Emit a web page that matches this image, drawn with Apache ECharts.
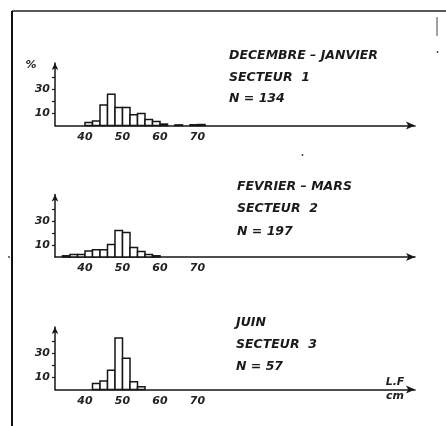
<!DOCTYPE html>
<html>
<head>
<meta charset="utf-8">
<script src="https://cdn.jsdelivr.net/npm/echarts@6/dist/echarts.min.js"></script>
<style>
html,body{margin:0;padding:0;background:#fff;}
#chart{width:446px;height:426px;}
</style>
</head>
<body>
<div id="chart"></div>
<script>
// ---- data (length classes in cm, frequency in %) ----
const binWidth = 2;
const xTickLabels = [40, 50, 60, 70];
const yTicks = [10, 20, 30, 40];
const yTickLabels = [10, 30];

const titles1 = ['DECEMBRE – JANVIER', 'SECTEUR  1', 'N = 134'];
const bins1   = [40, 42, 44, 46, 48, 50, 52, 54, 56, 58, 60, 64, 68, 70];
const values1 = [2.5, 3.7, 17, 26, 15, 15, 9, 10, 5, 3.3, 1.2, 0.5, 0.6, 0.8];

const titles2 = ['FEVRIER – MARS', 'SECTEUR  2', 'N = 197'];
const bins2   = [34, 36, 38, 40, 42, 44, 46, 48, 50, 52, 54, 56, 58];
const values2 = [1, 2, 2, 5, 6, 6, 10.5, 22, 20.5, 8, 4.5, 2, 1];

const titles3 = ['JUIN', 'SECTEUR  3', 'N = 57'];
const bins3   = [42, 44, 46, 48, 50, 52, 54];
const values3 = [5, 7, 16, 43, 26, 6.4, 2.2];

// ---- layout ----
const xMin = 32, xMax = 128, yMax = 52;
const gridLeft = 55, gridWidth = 360, gridHeight = 62.4;
const bottoms = [125.5, 257, 389.5];
const ink = '#161616';
const fontFam = '"DejaVu Sans", sans-serif';

const panels = [
  {bins: bins1, values: values1, titles: titles1, tx: 229, ty: [56, 78, 99]},
  {bins: bins2, values: values2, titles: titles2, tx: 237, ty: [187, 209, 231.5]},
  {bins: bins3, values: values3, titles: titles3, tx: 236, ty: [323, 345, 367]}
];

const grid = [], xAxis = [], yAxis = [], series = [];
panels.forEach((p, i) => {
  grid.push({left: gridLeft, top: bottoms[i] - gridHeight, width: gridWidth, height: gridHeight});
  xAxis.push({
    type: 'value', gridIndex: i, min: xMin, max: xMax,
    splitLine: {show: false},
    axisLine: {show: true, symbol: ['none', 'arrow'], symbolSize: [6, 9], lineStyle: {color: ink, width: 1.5}},
    axisTick: {show: false},
    axisLabel: {customValues: xTickLabels, margin: 6, color: '#222', fontSize: 11,
      fontStyle: 'italic', fontWeight: 'bold', fontFamily: fontFam}
  });
  yAxis.push({
    type: 'value', gridIndex: i, min: 0, max: yMax,
    splitLine: {show: false},
    axisLine: {show: true, symbol: ['none', 'arrow'], symbolSize: [5, 7], lineStyle: {color: ink, width: 1.5}},
    axisTick: {show: true, customValues: yTicks, length: 3, lineStyle: {color: ink, width: 1.2}},
    axisLabel: {customValues: yTickLabels, margin: 5, color: '#222', fontSize: 11,
      fontStyle: 'italic', fontWeight: 'bold', fontFamily: fontFam}
  });
  series.push({
    type: 'custom', xAxisIndex: i, yAxisIndex: i,
    data: p.bins.map((b, k) => [b, p.values[k]]),
    encode: {x: 0, y: 1},
    renderItem: function (params, api) {
      const x0 = api.value(0), h = api.value(1);
      const a = api.coord([x0, 0]);
      const b = api.coord([x0 + binWidth, h]);
      return {
        type: 'rect',
        shape: {x: a[0], y: b[1], width: b[0] - a[0], height: a[1] - b[1]},
        style: {fill: '#fff', stroke: ink, lineWidth: 1.5}
      };
    }
  });
});

const graphic = [
  {type: 'line', shape: {x1: 12, y1: 11, x2: 446, y2: 11}, style: {stroke: '#222', lineWidth: 1.5}},
  {type: 'line', shape: {x1: 12, y1: 11, x2: 12, y2: 426}, style: {stroke: '#111', lineWidth: 2}},
  {type: 'line', shape: {x1: 437, y1: 17, x2: 437, y2: 36}, style: {stroke: '#444', lineWidth: 1}},
  {type: 'circle', shape: {cx: 437.5, cy: 52, r: 0.9}, style: {fill: '#333'}},
  {type: 'circle', shape: {cx: 302.5, cy: 155, r: 0.9}, style: {fill: '#333'}},
  {type: 'circle', shape: {cx: 9, cy: 257, r: 0.9}, style: {fill: '#333'}},
  {type: 'text', x: 31, y: 65, style: {text: '%', fill: '#222', align: 'center', verticalAlign: 'middle',
    font: 'italic bold 11px ' + fontFam}},
  {type: 'text', x: 395, y: 382, style: {text: 'L.F', fill: '#222', align: 'center', verticalAlign: 'middle',
    font: 'italic bold 11px ' + fontFam}},
  {type: 'text', x: 395, y: 396, style: {text: 'cm', fill: '#222', align: 'center', verticalAlign: 'middle',
    font: 'italic bold 11px ' + fontFam}}
];
panels.forEach(p => {
  p.titles.forEach((t, k) => {
    graphic.push({type: 'text', x: p.tx, y: p.ty[k], style: {text: t, fill: '#1a1a1a',
      align: 'left', verticalAlign: 'middle', font: 'italic bold 12.5px ' + fontFam}});
  });
});

const chart = echarts.init(document.getElementById('chart'), null, {renderer: 'canvas'});
chart.setOption({
  backgroundColor: '#fff',
  animation: false,
  grid, xAxis, yAxis, series, graphic
});
</script>
</body>
</html>
